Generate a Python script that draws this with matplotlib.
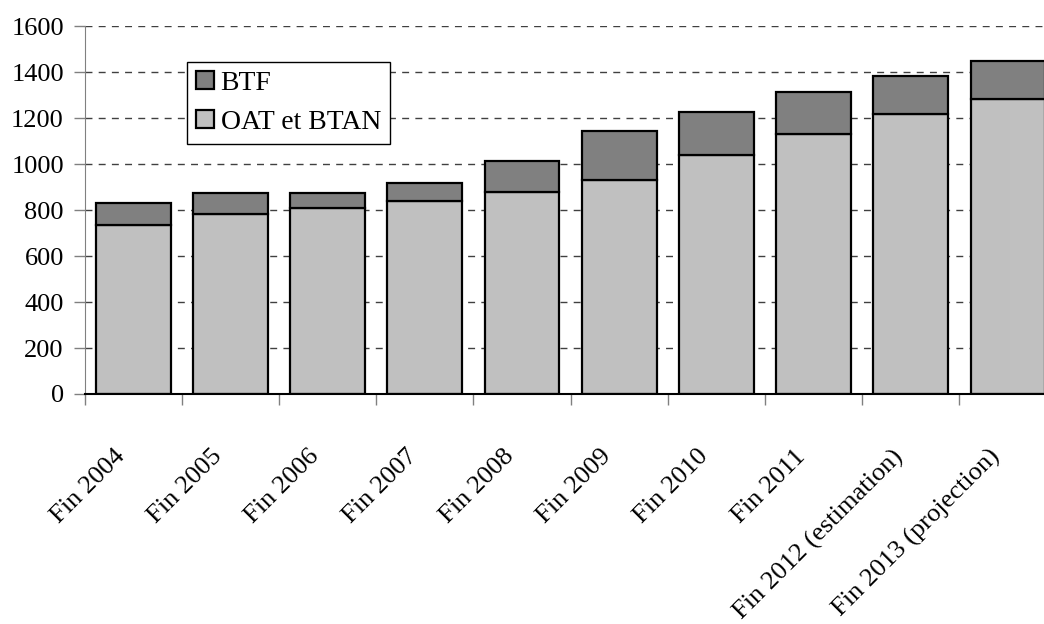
import numpy as np
import matplotlib
matplotlib.use("Agg")
import matplotlib.pyplot as plt

plt.rcParams['font.family'] = ['Liberation Serif', 'DejaVu Serif']

# encours de la dette négociable, en milliards
annees = ["Fin 2004", "Fin 2005", "Fin 2006", "Fin 2007", "Fin 2008", "Fin 2009",
          "Fin 2010", "Fin 2011", "Fin 2012 (estimation)", "Fin 2013 (projection)"]
oat_btan = [734, 782, 809, 841, 877, 933, 1041, 1133, 1217, 1284]
btf = [98, 94, 67, 78, 138, 213, 186, 179, 168, 166]

fig = plt.figure(figsize=(10.44, 6.24), dpi=100)
ax = fig.add_axes([0.0811, 0.3686, 0.931, 0.5893])

x = np.arange(len(annees))
largeur = 0.77
ax.bar(x, oat_btan, largeur, color='#c0c0c0', edgecolor='black', linewidth=1.6,
       label='OAT et BTAN', zorder=3)
ax.bar(x, btf, largeur, bottom=oat_btan, color='#808080', edgecolor='black',
       linewidth=1.6, label='BTF', zorder=3)

ax.set_xlim(-0.5, len(annees) - 0.5)
ax.set_ylim(0, 1600)
ax.set_yticks(range(0, 1601, 200))
ax.yaxis.grid(True, linestyle=(0, (5, 4.5)), color='#404040', linewidth=1.0, zorder=0)

# graduations aux limites des catégories, libellés inclinés un peu à gauche du centre
ax.set_xticks(np.arange(len(annees) + 1) - 0.5)
ax.set_xticklabels([])
ax.set_xticks(x - 0.2, minor=True)
ax.set_xticklabels(annees, minor=True, rotation=45, ha='right',
                   rotation_mode='anchor', fontsize=19)
ax.tick_params(axis='x', which='minor', length=0, pad=37)
ax.tick_params(axis='x', which='major', length=8, width=1, color='#808080', direction='out')
ax.tick_params(axis='y', length=8, width=1, color='#808080', direction='out',
               labelsize=19, pad=7)

for s in ['top', 'right']:
    ax.spines[s].set_visible(False)
ax.spines['left'].set_color('#808080')
ax.spines['bottom'].set_color('black')
ax.spines['bottom'].set_linewidth(1.5)
ax.spines['bottom'].set_zorder(4)

handles, labels = ax.get_legend_handles_labels()
leg = ax.legend(handles[::-1], labels[::-1], loc='upper left',
                bbox_to_anchor=(0.105, 0.903), fontsize=20, frameon=True,
                fancybox=False, edgecolor='black', framealpha=1,
                handlelength=0.65, handleheight=0.65, handletextpad=0.25,
                labelspacing=0.5, borderpad=0.32, borderaxespad=0)
leg.get_frame().set_linewidth(1.0)
leg.set_zorder(5)

fig.savefig("out.png", dpi=100)
